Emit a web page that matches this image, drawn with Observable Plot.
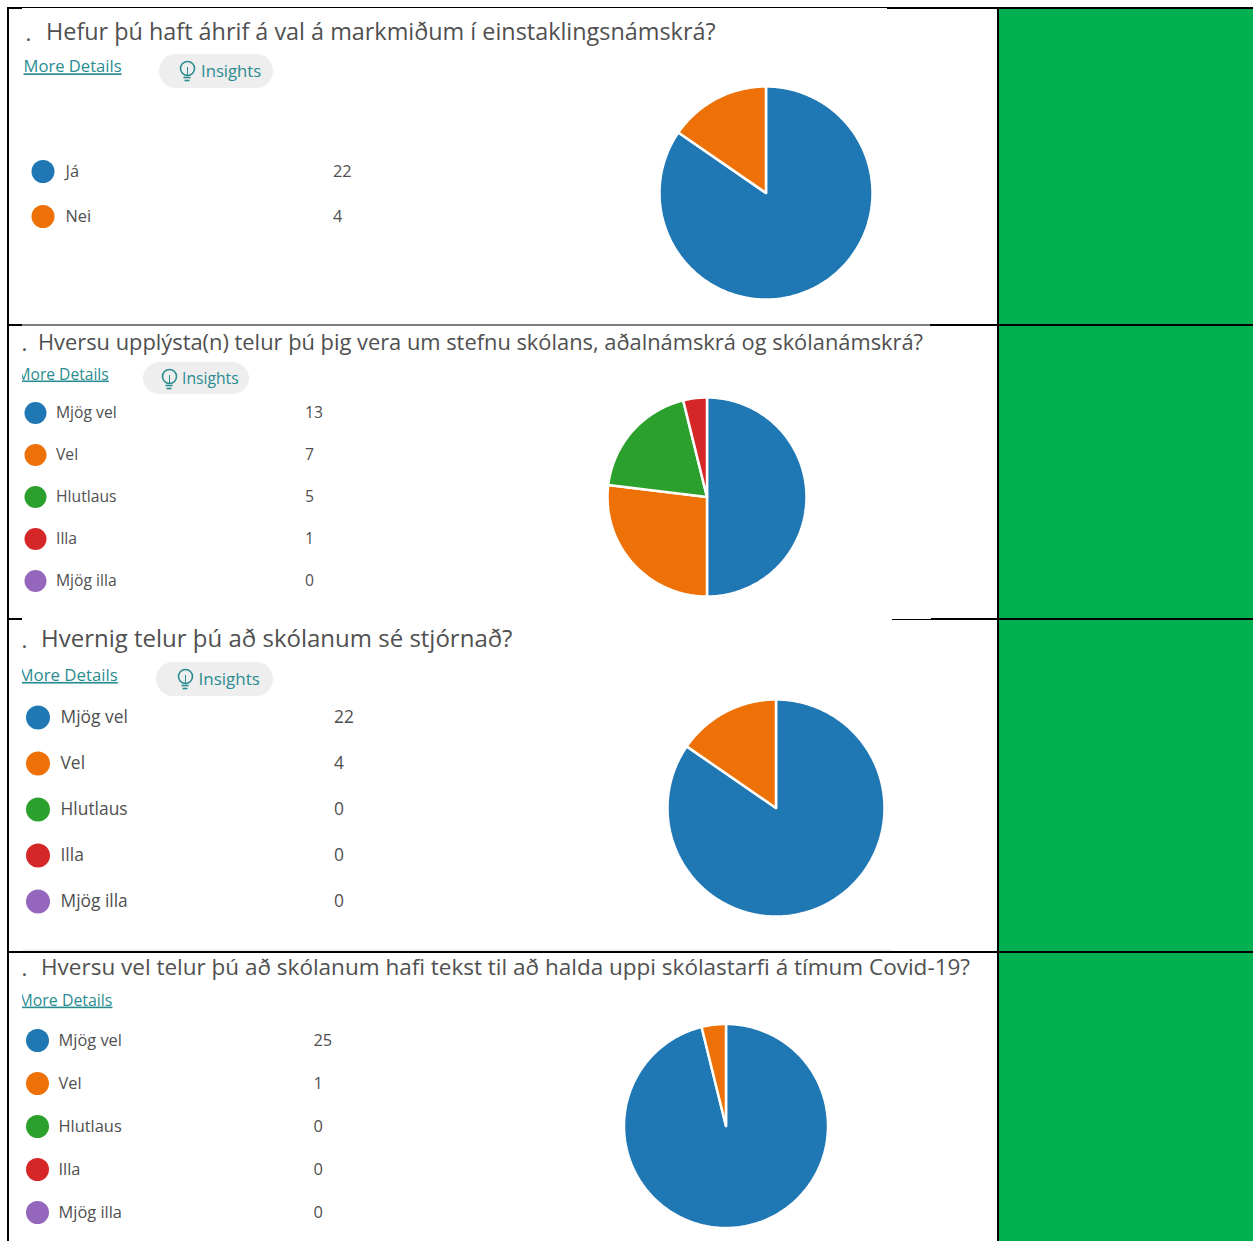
<!DOCTYPE html>
<html lang="is">
<head>
<meta charset="utf-8">
<script src="https://cdn.jsdelivr.net/npm/d3@7"></script>
<script src="https://cdn.jsdelivr.net/npm/@observablehq/plot@0.6"></script>
<style>
html,body{margin:0;padding:0;background:#fff;overflow:hidden}
svg{display:block}
.lnk text{text-decoration:underline}
</style>
</head>
<body>
<div id="chart"></div>
<script>
// --- chart data ---
const questions = [
  "Hefur þú haft áhrif á val á markmiðum í einstaklingsnámskrá?",
  "Hversu upplýsta(n) telur þú þig vera um stefnu skólans, aðalnámskrá og skólanámskrá?",
  "Hvernig telur þú að skólanum sé stjórnað?",
  "Hversu vel telur þú að skólanum hafi tekst til að halda uppi skólastarfi á tímum Covid-19?"
];
const labelsA = ["Já", "Nei"];
const valuesA = [22, 4];
const labelsB = ["Mjög vel", "Vel", "Hlutlaus", "Illa", "Mjög illa"];
const valuesB = [13, 7, 5, 1, 0];
const valuesC = [22, 4, 0, 0, 0];
const valuesD = [25, 1, 0, 0, 0];
const palette = ["#1f77b4", "#ed7106", "#2ca02c", "#d62728", "#9467bd"];

// --- layout of the four panels ---
const panels = [
  {labels: labelsA, values: valuesA, cx: 765.5, cy: 192.5, r: 106.5, titleX: 45.5, titleY: 32, titleSize: 23.4, dotX: 25,
   moreX: 23, moreY: 66.5, moreSize: 16.6, legX: 42.5, legY: 171, legStep: 45, legR: 11.5, textX: 65, countX: 332.5, legSize: 16.4,
   pill: {x1: 159, x2: 273, y1: 54, y2: 88, bx: 187, by: 70, tx: 200.5, size: 16.7}},
  {labels: labelsB, values: valuesB, cx: 706.5, cy: 496.5, r: 99.5, titleX: 37.5, titleY: 342, titleSize: 21.85, dotX: 21,
   moreX: 16, moreY: 374, moreSize: 15.6, legX: 35, legY: 412.5, legStep: 42, legR: 11, textX: 55.5, countX: 304.5, legSize: 15.7,
   pill: {x1: 143, x2: 249, y1: 362, y2: 394, bx: 169, by: 378, tx: 181.5, size: 15.7}},
  {labels: labelsB, values: valuesC, cx: 775.5, cy: 807.5, r: 108.5, titleX: 40.5, titleY: 639, titleSize: 24, dotX: 21,
   moreX: 18, moreY: 675, moreSize: 16.8, legX: 37.5, legY: 717, legStep: 46, legR: 12, textX: 60, countX: 333.5, legSize: 17.4,
   pill: {x1: 156, x2: 273, y1: 662, y2: 696, bx: 185, by: 678, tx: 198, size: 17}},
  {labels: labelsB, values: valuesD, cx: 725.5, cy: 1125.5, r: 102, titleX: 40.5, titleY: 967, titleSize: 22.5, dotX: 21,
   moreX: 18, moreY: 1000, moreSize: 15.9, legX: 37, legY: 1040, legStep: 43, legR: 11.5, textX: 58, countX: 313, legSize: 16.4}
];
const greenCells = [{y1: 9, y2: 325}, {y1: 326, y2: 619}, {y1: 620, y2: 952}, {y1: 953, y2: 1241}];
const borders = [
  {x1: 7, x2: 22, y: 7.5, w: 2}, {x1: 22, x2: 887, y: 7, w: 1}, {x1: 887, x2: 1253, y: 7.5, w: 2},
  {x1: 7, x2: 22, y: 324.5, w: 2}, {x1: 22, x2: 930, y: 324.5, w: 1}, {x1: 930, x2: 1253, y: 324.5, w: 2},
  {x1: 7, x2: 22, y: 618.5, w: 2}, {x1: 892, x2: 931, y: 619, w: 1}, {x1: 931, x2: 1253, y: 618.5, w: 2},
  {x1: 7, x2: 1253, y: 951.5, w: 2}
];
const teal = "#2a8c90", ink = "#505050";

// --- rows derived from the data ---
const sliceRows = panels.flatMap((p, k) =>
  d3.pie().sort(null)(p.values).filter(a => a.value > 0).flatMap(a => {
    const n = Math.max(2, Math.ceil((a.endAngle - a.startAngle) / 0.02));
    const rim = d3.range(n + 1).map(i => {
      const t = a.startAngle + (a.endAngle - a.startAngle) * i / n;
      return {key: k + "-" + a.index, c: a.index, x: p.cx + p.r * Math.sin(t), y: p.cy - p.r * Math.cos(t)};
    });
    const centre = {key: k + "-" + a.index, c: a.index, x: p.cx, y: p.cy};
    return [centre, ...rim, centre];
  })
);
const legendRows = panels.flatMap(p => p.labels.map((label, i) => ({
  label, value: p.values[i], c: i, y: p.legY + i * p.legStep, x: p.legX, r: p.legR,
  tx: p.textX, vx: p.countX, size: p.legSize
})));
const pills = panels.filter(p => p.pill).map(p => p.pill);

const textOf = (rows, opts) => d3.groups(rows, d => d.size).map(([size, g]) =>
  Plot.text(g, {...opts, fontSize: size, textAnchor: "start", lineAnchor: "middle", fontFamily: "Open Sans"}));

const chart = Plot.plot({
  width: 1253, height: 1241, margin: 0,
  x: {domain: [0, 1253], axis: null},
  y: {domain: [1241, 0], axis: null},
  r: {type: "identity"},
  color: {type: "ordinal", domain: d3.range(5), range: palette},
  style: {background: "#fff"},
  marks: [
    Plot.rect(greenCells, {x1: () => 999, x2: () => 1253, y1: "y1", y2: "y2", fill: "#00b050"}),
    // titles
    ...panels.map((p, i) => Plot.text([questions[i]], {x: p.titleX, y: p.titleY, text: d => d, fontSize: p.titleSize, fill: ink, textAnchor: "start", lineAnchor: "middle", fontFamily: "Open Sans"})),
    Plot.text(panels, {x: "dotX", y: d => d.titleY + 1, text: () => ".", fontSize: 22, fill: ink, textAnchor: "start", lineAnchor: "middle", fontFamily: "Open Sans"}),
    // More Details links
    ...panels.map(p => Plot.text(["More Details"], {x: p.moreX, y: p.moreY, text: d => d, fontSize: p.moreSize, fill: teal, textAnchor: "start", lineAnchor: "middle", fontFamily: "Open Sans", className: "lnk"})),
    Plot.rect(panels.slice(1), {x1: () => 9, x2: () => 22, y1: d => d.moreY - 14, y2: d => d.moreY + 14, fill: "#fff"}),
    // Insights pills
    Plot.rect(pills, {x1: "x1", x2: "x2", y1: "y1", y2: "y2", fill: "#eeeeee", rx: 17}),
    Plot.dot(pills, {x: "bx", y: d => d.by - 2, r: () => 7, stroke: teal, fill: "none", strokeWidth: 1.6}),
    Plot.ruleY(pills, {x1: d => d.bx - 3.5, x2: d => d.bx + 3.5, y: d => d.by + 7, stroke: teal, strokeWidth: 1.6}),
    Plot.ruleY(pills, {x1: d => d.bx - 2.5, x2: d => d.bx + 2.5, y: d => d.by + 10, stroke: teal, strokeWidth: 1.6}),
    Plot.ruleX(pills, {x: "bx", y1: d => d.by - 3, y2: d => d.by + 6, stroke: teal, strokeWidth: 1}),
    ...d3.groups(pills, d => d.size).map(([size, g]) => Plot.text(g, {x: "tx", y: d => (d.y1 + d.y2) / 2, text: () => "Insights", fontSize: size, fill: teal, textAnchor: "start", lineAnchor: "middle", fontFamily: "Open Sans"})),
    // legend
    Plot.dot(legendRows, {x: "x", y: "y", r: "r", fill: "c"}),
    ...textOf(legendRows, {x: "tx", y: "y", text: "label", fill: ink}),
    ...textOf(legendRows, {x: "vx", y: "y", text: d => String(d.value), fill: ink}),
    // pies
    Plot.line(sliceRows, {x: "x", y: "y", z: "key", fill: "c", stroke: "#fff", strokeWidth: 2.5, strokeLinejoin: "miter"}),
    // table grid
    Plot.ruleY([949.5], {x1: () => 22, x2: () => 892, stroke: "#e8e8e8", strokeWidth: 1}),
    Plot.ruleY(borders, {x1: "x1", x2: "x2", y: "y", stroke: "#000", strokeWidth: "w"}),
    Plot.ruleX([7.5], {y1: () => 7, y2: () => 1241, stroke: "#000", strokeWidth: 2}),
    Plot.ruleX([997.5], {y1: () => 7, y2: () => 1241, stroke: "#000", strokeWidth: 2})
  ]
});
document.getElementById("chart").append(chart);
</script>
</body>
</html>
